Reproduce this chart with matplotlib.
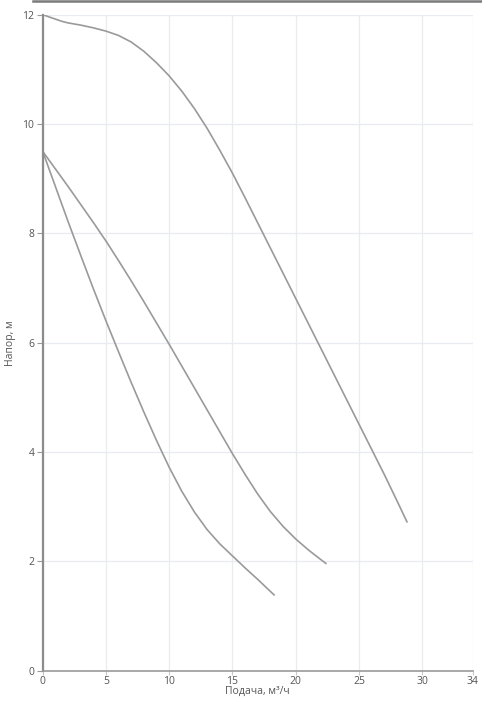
import matplotlib
matplotlib.use("Agg")
from matplotlib import pyplot as plt
from matplotlib.lines import Line2D

plt.rcParams['font.family'] = ['Open Sans', 'DejaVu Sans']

# напорные характеристики (подача, м3/ч -> напор, м)
q_top = [0, 0.5, 1, 1.5, 2, 3, 4, 5, 6, 7, 8, 9, 10, 11, 12, 13, 14, 15, 16, 17, 18, 19, 20,
         21, 22, 23, 24, 25, 26, 27, 28, 28.8]
h_top = [12, 11.96, 11.92, 11.88, 11.85, 11.81, 11.76, 11.7, 11.62, 11.5, 11.33, 11.12, 10.88,
         10.6, 10.28, 9.92, 9.52, 9.1, 8.65, 8.19, 7.73, 7.27, 6.81, 6.35, 5.89, 5.43, 4.97,
         4.51, 4.05, 3.59, 3.11, 2.72]

q_mid = [0, 1, 2, 3, 4, 5, 6, 7, 8, 9, 10, 11, 12, 13, 14, 15, 16, 17, 18, 19, 20, 21, 22, 22.4]
h_mid = [9.5, 9.18, 8.86, 8.53, 8.2, 7.86, 7.5, 7.13, 6.75, 6.36, 5.97, 5.57, 5.17, 4.77, 4.37,
         3.97, 3.59, 3.23, 2.91, 2.64, 2.41, 2.21, 2.03, 1.96]

q_low = [0, 1, 2, 3, 4, 5, 6, 7, 8, 9, 10, 11, 12, 13, 14, 15, 16, 17, 18, 18.3]
h_low = [9.5, 8.86, 8.22, 7.6, 6.99, 6.4, 5.83, 5.27, 4.73, 4.21, 3.72, 3.28, 2.9, 2.58, 2.32,
         2.1, 1.88, 1.67, 1.45, 1.385]

x_ticks = [0, 5, 10, 15, 20, 25, 30, 34]
y_ticks = [0, 2, 4, 6, 8, 10, 12]

fig = plt.figure(figsize=(4.82, 7.14), dpi=100)
ax = fig.add_axes([0.0886, 0.0606, 0.981 - 0.0886, 0.9794 - 0.0606])

for q, h in [(q_top, h_top), (q_mid, h_mid), (q_low, h_low)]:
    ax.plot(q, h, color='#9a9a9a', lw=1.2, solid_capstyle='round', solid_joinstyle='round')

ax.set_xlim(0, 34)
ax.set_ylim(0, 12)
ax.set_xticks(x_ticks)
ax.set_yticks(y_ticks)
ax.grid(True, color='#e9ebf2', lw=0.9)
ax.set_axisbelow(True)

for s in ['top', 'right']:
    ax.spines[s].set_visible(False)
ax.spines['left'].set_color('#8c8c8c')
ax.spines['left'].set_linewidth(1.6)
ax.spines['bottom'].set_color('#9a9a9a')
ax.spines['bottom'].set_linewidth(1.2)

ax.tick_params(axis='y', length=4, width=0.8, color='#9a9a9a', labelsize=7.5, labelcolor='#555555', pad=2)
ax.tick_params(axis='x', length=3, width=0.8, color='#c8c8c8', labelsize=7.5, labelcolor='#555555', pad=0.5)

ax.set_xlabel('Подача, м³/ч', fontsize=7.5, color='#555555')
ax.set_ylabel('Напор, м', fontsize=7.5, color='#555555')
ax.xaxis.set_label_coords(0.5, -0.023)
ax.yaxis.set_label_coords(-0.062, 0.5)

# тёмная линия по верхнему краю
fig.add_artist(Line2D([33 / 482, 1], [1 - 1 / 714, 1 - 1 / 714], color='#7a7a7a', lw=1.8))

fig.savefig('out.png', dpi=100)
